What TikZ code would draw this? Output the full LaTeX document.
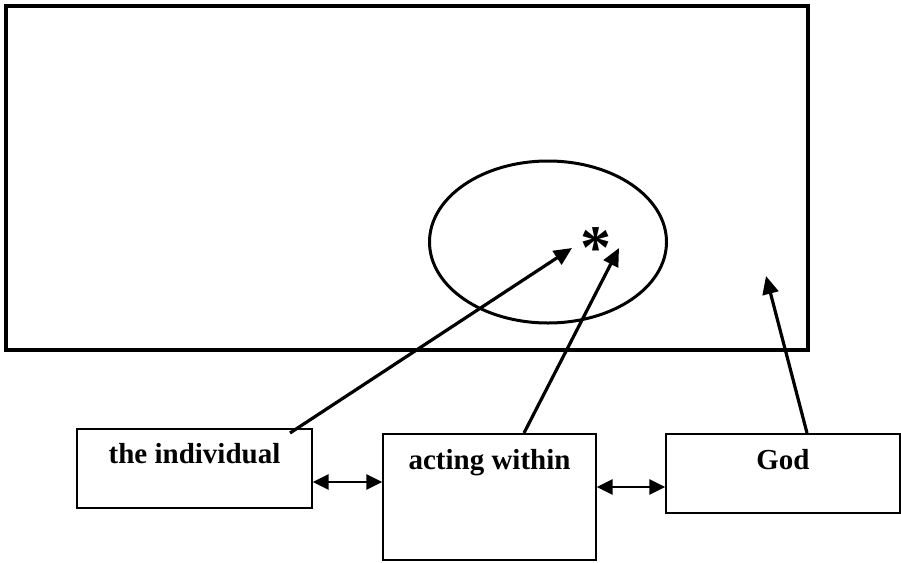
\documentclass[tikz,border=0pt]{standalone}
\usepackage{fontspec}
\setmainfont{Liberation Serif}
\usetikzlibrary{arrows.meta,calc}
\begin{document}
\begin{tikzpicture}[x=1pt,y=-1pt,
  frame/.style={draw=black,line width=4pt},
  circ/.style={draw=black,line width=3pt},
  box/.style={draw=black,line width=1.3pt,rectangle,inner sep=0pt},
  lbl/.style={font=\fontsize{29}{33}\selectfont\bfseries,anchor=base,inner sep=0pt},
  ptr/.style={line width=3.2pt,-{Triangle[length=18pt,width=16pt]}},
  dbl/.style={line width=2.6pt,{Triangle[length=16pt,width=15pt]}-{Triangle[length=16pt,width=15pt]}}]
\useasboundingbox (0,0) rectangle (901,562);
\draw[frame] (5.5,5.5) rectangle (807.5,350);
\draw[circ] (548,242) ellipse [x radius=118.5, y radius=81];
\node[font=\fontsize{62}{62}\selectfont\bfseries,inner sep=0pt] (star) at (596,248) {*};
\node[box,minimum width=235pt,minimum height=79pt] (ind) at (194.5,468.5) {};
\node[box,minimum width=213pt,minimum height=126pt] (act) at (489.5,497) {};
\node[box,minimum width=234pt,minimum height=79pt] (god) at (783,473.5) {};
\node[lbl] (tind) at (194.5,463) {the individual};
\node[lbl] (tact) at (489.5,469) {acting within};
\node[lbl] (tgod) at (783,469) {God};
\coordinate (s1) at (290,433);
\coordinate (e1) at (572,248);
\coordinate (s2) at (524,433);
\coordinate (e2) at (619,248);
\coordinate (s3) at (807,433);
\coordinate (e3) at (766,276);
\draw[ptr] (s1) -- (e1);
\draw[ptr] (s2) -- (e2);
\draw[ptr] (s3) -- (e3);
\draw[dbl] ([yshift=-13.5pt]ind.east) -- ([yshift=-13.5pt]ind.east -| act.west);
\draw[dbl] ([yshift=-13.5pt]god.west -| act.east) -- ([yshift=-13.5pt]god.west);
\end{tikzpicture}
\end{document}
